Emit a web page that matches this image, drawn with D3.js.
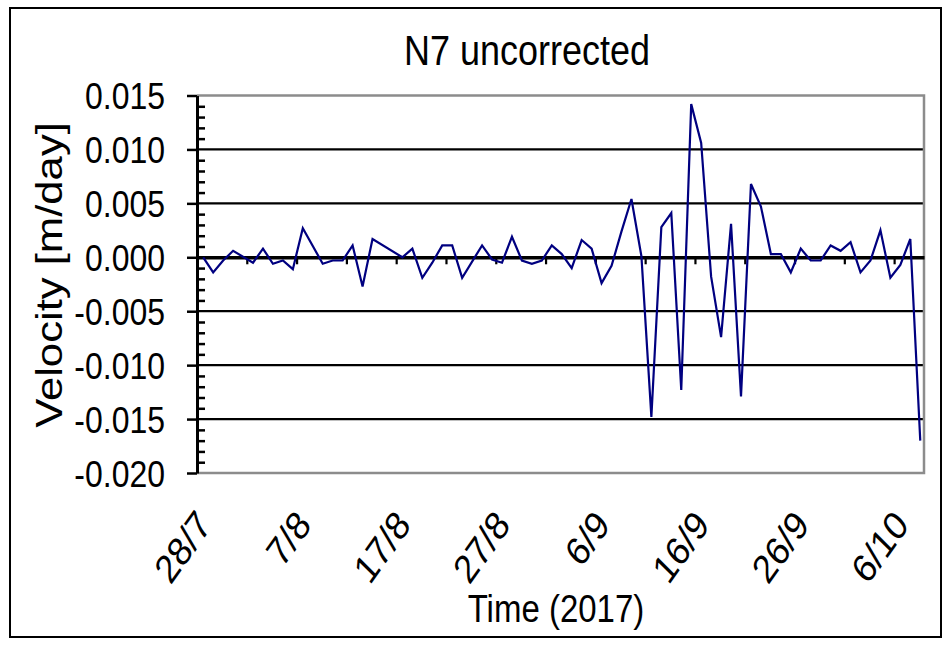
<!DOCTYPE html>
<html>
<head>
<meta charset="utf-8">
<script src="https://cdn.jsdelivr.net/npm/d3@7"></script>
<style>
  body { margin: 0; background: #fff; }
  text { font-family: "Liberation Sans", Arial, sans-serif; fill: #000; }
</style>
</head>
<body>
<div id="chart"></div>
<script>
const chartTitle = "N7 uncorrected"
const yLabel = "Velocity [m/day]"
const xLabel = "Time (2017)"

// acquisition dates and velocity (m/day)
const dates = [
  "2017-07-28", "2017-07-29", "2017-07-30", "2017-07-31", "2017-08-02", "2017-08-03",
  "2017-08-04", "2017-08-05", "2017-08-06", "2017-08-07", "2017-08-09", "2017-08-10",
  "2017-08-11", "2017-08-12", "2017-08-13", "2017-08-14", "2017-08-17", "2017-08-18",
  "2017-08-19", "2017-08-20", "2017-08-21", "2017-08-22", "2017-08-23", "2017-08-25",
  "2017-08-26", "2017-08-27", "2017-08-28", "2017-08-29", "2017-08-30", "2017-08-31",
  "2017-09-01", "2017-09-02", "2017-09-03", "2017-09-04", "2017-09-05", "2017-09-06",
  "2017-09-07", "2017-09-08", "2017-09-09", "2017-09-10", "2017-09-11", "2017-09-12",
  "2017-09-13", "2017-09-14", "2017-09-15", "2017-09-16", "2017-09-17", "2017-09-18",
  "2017-09-19", "2017-09-20", "2017-09-21", "2017-09-22", "2017-09-23", "2017-09-24",
  "2017-09-25", "2017-09-26", "2017-09-27", "2017-09-28", "2017-09-29", "2017-09-30",
  "2017-10-01", "2017-10-02", "2017-10-03", "2017-10-04", "2017-10-05", "2017-10-06",
  "2017-10-07", "2017-10-08"
]
const velocity = [
  0.0000, -0.0014, -0.0003, 0.0006, -0.0005, 0.0008,
  -0.0006, -0.0003, -0.0011, 0.0027, -0.0006, -0.0003,
  -0.0003, 0.0011, -0.0027, 0.0017, 0.0000, 0.0008,
  -0.0019, -0.0005, 0.0011, 0.0011, -0.0019, 0.0011,
  -0.0002, -0.0005, 0.0019, -0.0003, -0.0006, -0.0003,
  0.0011, 0.0003, -0.0010, 0.0016, 0.0008, -0.0024,
  -0.0008, 0.0024, 0.0054, 0.0001, -0.0148, 0.0028,
  0.0041, -0.0123, 0.0142, 0.0106, -0.0018, -0.0074,
  0.0031, -0.0129, 0.0068, 0.0047, 0.0003, 0.0003,
  -0.0014, 0.0008, -0.0003, -0.0003, 0.0011, 0.0006,
  0.0014, -0.0014, -0.0003, 0.0025, -0.0019, -0.0007,
  0.0017, -0.0170
]
const acqTime = "15:00"

const xStart = "2017-07-28", xEnd = "2017-10-09"
const xLabelDates = ["2017-07-28", "2017-08-07", "2017-08-17", "2017-08-27",
                     "2017-09-06", "2017-09-16", "2017-09-26", "2017-10-06"]
const yTicks = [-0.020, -0.015, -0.010, -0.005, 0.000, 0.005, 0.010, 0.015]

// layout
const W = 952, H = 646
const plot = { left: 197, right: 924, top: 95.5, bottom: 473 }
const k = 1.18   // the picture is stretched vertically, text too

const parseDay = d3.timeParse("%Y-%m-%d")
const parseTime = d3.timeParse("%Y-%m-%d %H:%M")
const fmtDay = d3.timeFormat("%-d/%-m")

const data = dates.map((d, i) => ({ t: parseTime(d + " " + acqTime), v: velocity[i] }))

const x = d3.scaleTime().domain([parseDay(xStart), parseDay(xEnd)]).range([plot.left, plot.right])
const y = d3.scaleLinear().domain([-0.02, 0.015]).range([plot.bottom, plot.top])

const svg = d3.select("#chart").append("svg")
    .attr("width", W).attr("height", H)

svg.append("rect")
    .attr("x", 10).attr("y", 8).attr("width", 931).attr("height", 629)
    .attr("fill", "none").attr("stroke", "#000").attr("stroke-width", 2)

function stretchedText(str, tx, ty, size, angle, anchor) {
    return svg.append("text").text(str)
        .attr("transform", `translate(${tx},${ty}) scale(1,${k}) rotate(${angle})`)
        .attr("text-anchor", anchor)
        .style("font-size", size + "px")
}

// horizontal gridlines
svg.append("g")
    .selectAll("line")
    .data(yTicks.filter(v => v > -0.02 && v < 0.015 && v !== 0))
    .join("line")
    .attr("x1", plot.left).attr("x2", plot.right)
    .attr("y1", d => y(d)).attr("y2", d => y(d))
    .attr("stroke", "#000").attr("stroke-width", 2.2)

// grey plot frame
svg.append("path")
    .attr("d", `M${plot.left},${plot.top}H${plot.right}V${plot.bottom}H${plot.left}`)
    .attr("fill", "none").attr("stroke", "#8c8c8c").attr("stroke-width", 2.5)

// zero line acts as the time axis
const xAxis = svg.append("g")
    .attr("transform", `translate(0, ${y(0)})`)
    .call(d3.axisBottom(x)
        .tickValues(d3.timeDay.range(parseDay(xStart), parseDay(xEnd), 5))
        .tickSize(7).tickSizeOuter(0).tickFormat(""))
xAxis.select(".domain").attr("stroke", "#000").attr("stroke-width", 3.5)
xAxis.selectAll(".tick line").attr("stroke", "#000").attr("stroke-width", 2.2)

// series
svg.append("path")
    .datum(data)
    .attr("fill", "none")
    .attr("stroke", "#000080")
    .attr("stroke-width", 2.2)
    .attr("stroke-linejoin", "miter")
    .attr("d", d3.line().x(d => x(d.t)).y(d => y(d.v)))

// y axis: major ticks outside, minor ticks inside
const yAxis = svg.append("g")
    .attr("transform", `translate(${plot.left}, 0)`)
    .call(d3.axisLeft(y).tickValues(yTicks).tickSize(10).tickSizeOuter(0).tickFormat(""))
yAxis.select(".domain").attr("stroke", "#000").attr("stroke-width", 3)
yAxis.selectAll(".tick line").attr("stroke", "#000").attr("stroke-width", 2.5)

svg.append("g")
    .attr("transform", `translate(${plot.left}, 0)`)
    .call(d3.axisRight(y).tickValues(d3.range(-20, 16).filter(v => v % 5 !== 0).map(v => v / 1000))
        .tickSize(8).tickSizeOuter(0).tickFormat(""))
    .call(g => g.select(".domain").remove())
    .selectAll(".tick line").attr("stroke", "#000").attr("stroke-width", 2.5)

// labels
yTicks.forEach(v => stretchedText(d3.format(".3f")(v).replace("−", "-"), 165, y(v) + 13.5, 32, 0, "end"))
xLabelDates.forEach(d => stretchedText(fmtDay(parseDay(d)), x(parseDay(d)) + 16, 526, 34, -50, "end"))

stretchedText(chartTitle, 527, 65, 36, 0, "middle")
stretchedText(yLabel, 62, 275, 37, -90, "middle")
stretchedText(xLabel, 556, 622, 33, 0, "middle")
</script>
</body>
</html>
